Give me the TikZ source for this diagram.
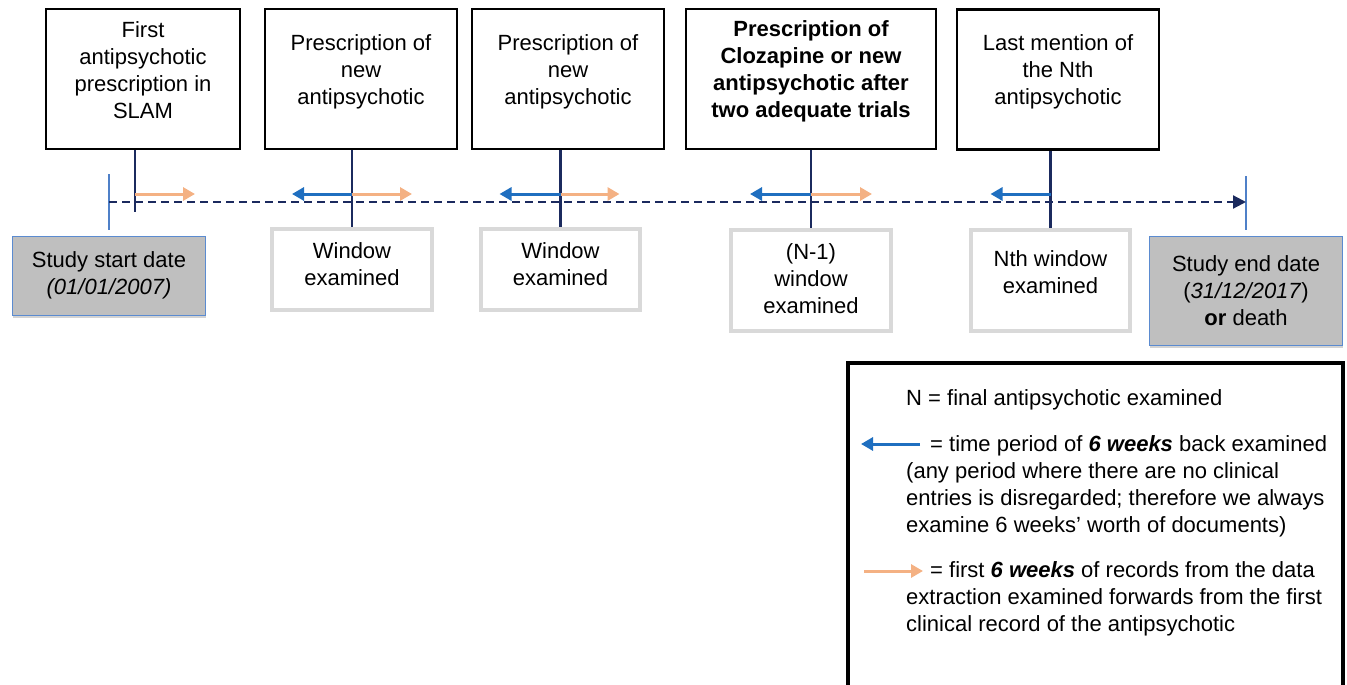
\documentclass[tikz,border=0pt]{standalone}
\usepackage{fontspec}
\setmainfont{Liberation Sans}
\usetikzlibrary{arrows.meta,shadows}
\definecolor{navy}{HTML}{1B2A5E}
\definecolor{backblue}{HTML}{1F6FC0}
\definecolor{fwdorange}{HTML}{F4B183}
\definecolor{tickblue}{HTML}{4F80C8}
\definecolor{dategrey}{HTML}{BFBFBF}
\definecolor{dateborder}{HTML}{5B8BD0}
\definecolor{winborder}{HTML}{D9D9D9}
\begin{document}
\begin{tikzpicture}[x=1pt,y=-1pt,
  every node/.style={font=\fontsize{22}{27}\selectfont, inner sep=0pt},
  txt/.style={align=center},
  topbox/.style={draw=black, line width=2.8pt, minimum height=140pt},
  winbox/.style={draw=winborder, line width=4pt, minimum width=160pt},
  datebox/.style={draw=dateborder, fill=dategrey, line width=1pt, minimum width=193pt,
    drop shadow={shadow xshift=0.5pt, shadow yshift=-2.5pt, opacity=0.35}},
  stem/.style={draw=navy, line width=2.2pt},
  tickline/.style={draw=tickblue, line width=1.5pt},
  timeline/.style={draw=navy, line width=2.2pt, dash pattern=on 8pt off 5pt, -{Triangle[length=13pt,width=13pt]}},
  backarr/.style={draw=backblue, line width=3pt, -{Triangle[length=12pt,width=13pt]}},
  fwdarr/.style={draw=fwdorange, line width=3pt, -{Triangle[length=12pt,width=13pt]}},
  legendbox/.style={draw=black, line width=3.5pt}
]
\useasboundingbox (0,0) rectangle (1347,685);

% top boxes
\node[topbox, minimum width=194pt] (b1) at (143,79) {};
\node[topbox, minimum width=192pt] (b2) at (361,79) {};
\node[topbox, minimum width=192pt] (b3) at (568,79) {};
\node[topbox, minimum width=250pt] (b4) at (811,79) {};
\node[topbox, minimum width=202pt] (b5) at (1058,79.5) {};
\node[txt] (t1) at ([yshift=9pt]b1.center) {First\\antipsychotic\\prescription in\\SLAM};
\node[txt] (t2) at ([yshift=7pt]b2.center) {Prescription of\\new\\antipsychotic};
\node[txt] (t3) at ([yshift=7pt]b3.center) {Prescription of\\new\\antipsychotic};
\node[txt, font=\fontsize{22}{27}\selectfont\bfseries] (t4) at ([yshift=8pt]b4.center) {Prescription of\\Clozapine or new\\antipsychotic after\\two adequate trials};
\node[txt] (t5) at ([yshift=7.5pt]b5.center) {Last mention of\\the Nth\\antipsychotic};

% window boxes
\node[winbox, minimum height=81pt] (w1) at (352,269.5) {};
\node[winbox, minimum height=81pt, minimum width=159pt] (w2) at (560.5,269.5) {};
\node[winbox, minimum height=101pt] (w3) at (811,280.5) {};
\node[winbox, minimum height=101pt, minimum width=159pt] (w4) at (1050.5,280.5) {};
\node[txt] (wt1) at ([yshift=5pt]w1.center) {Window\\examined};
\node[txt] (wt2) at ([yshift=5pt]w2.center) {Window\\examined};
\node[txt] (wt3) at ([yshift=2pt]w3.center) {(N-1)\\window\\examined};
\node[txt] (wt4) at ([yshift=8pt]w4.center) {Nth window\\examined};

% date boxes
\node[datebox, minimum height=79pt, txt] (sd) at (109,275.5) {Study start date\\\textit{(01/01/2007)}};
\node[datebox, minimum height=109pt, txt] (ed) at (1246,290.5) {Study end date\\(\textit{31/12/2017})\\\textbf{or} death};

% timeline
\coordinate (tS) at (sd.north |- 0,202);
\coordinate (tE) at (ed.north |- 0,202);
\draw[tickline] ([yshift=28pt]tS) -- ([yshift=-28pt]tS);
\draw[tickline] ([yshift=26pt]tE) -- ([yshift=-28pt]tE);
\draw[timeline] (tS) -- (tE);

% stems
\coordinate (s1) at (135,212);
\draw[stem] (s1 |- b1.south) -- (s1);
\draw[stem] (w1.north |- b2.south) -- (w1.north);
\draw[stem] (w2.north |- b3.south) -- (w2.north);
\draw[stem] (b4.south) -- (w3.north);
\draw[stem] (w4.north |- b5.south) -- (w4.north);

% window arrows
\coordinate (a1) at (s1 |- 0,194);
\coordinate (a2) at (w1.north |- 0,194);
\coordinate (a3) at (w2.north |- 0,194);
\coordinate (a4) at (w3.north |- 0,194);
\coordinate (a5) at (w4.north |- 0,194);
\draw[fwdarr] (a1) -- ([xshift=60pt]a1);
\draw[backarr] (a2) -- ([xshift=-60pt]a2);
\draw[fwdarr] (a2) -- ([xshift=60pt]a2);
\draw[backarr] (a3) -- ([xshift=-61pt]a3);
\draw[fwdarr] (a3) -- ([xshift=59pt]a3);
\draw[backarr] (a4) -- ([xshift=-61pt]a4);
\draw[fwdarr] (a4) -- ([xshift=61pt]a4);
\draw[backarr] (a5) -- ([xshift=-60pt]a5);

% legend
\node[legendbox, minimum width=495pt, minimum height=340pt] (leg) at (1095.5,533) {};
\node[anchor=west] (l1) at (906,400) {N = final antipsychotic examined};
\node[anchor=west, align=left] (l2) at (906,486) {\hspace*{24pt}= time period of \textbf{\textit{6 weeks}} back examined\\(any period where there are no clinical\\entries is disregarded; therefore we always\\examine 6 weeks’ worth of documents)};
\node[anchor=west, align=left] (l3) at (906,598.5) {\hspace*{24pt}= first \textbf{\textit{6 weeks}} of records from the data\\extraction examined forwards from the first\\clinical record of the antipsychotic};
\coordinate (lb) at (920,444);
\coordinate (lo) at (864,571);
\draw[backarr] (lb) -- ([xshift=-59pt]lb);
\draw[fwdarr] (lo) -- ([xshift=59pt]lo);
\end{tikzpicture}
\end{document}
